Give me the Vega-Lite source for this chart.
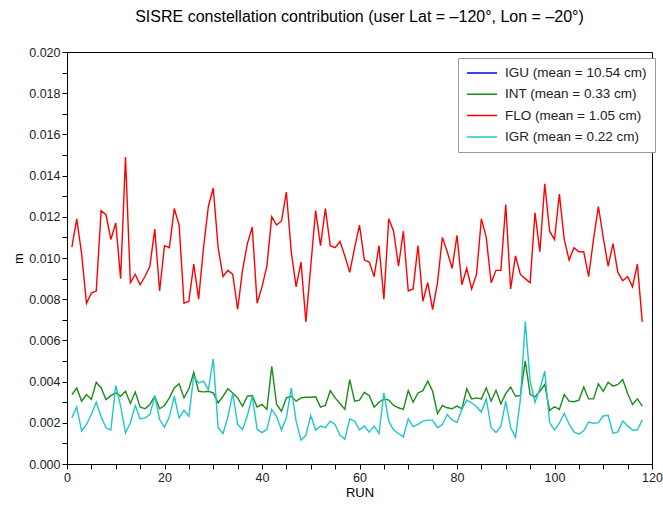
{
  "$schema": "https://vega.github.io/schema/vega-lite/v6.json",
  "width": 585,
  "height": 412,
  "autosize": {"type": "none"},
  "padding": {"left": 67, "top": 52, "right": 11, "bottom": 50},
  "background": "white",
  "title": {"text": "SISRE constellation contribution (user Lat = –120°, Lon = –20°)", "font": "Liberation Sans", "fontSize": 16, "fontWeight": "normal", "color": "black", "offset": 21, "anchor": "middle"},
  "config": {
    "view": {"stroke": "black", "strokeWidth": 1},
    "axis": {"domainColor": "black", "tickColor": "black", "tickSize": 5, "labelFont": "Liberation Sans", "labelFontSize": 12.5, "labelColor": "#222", "titleFont": "Liberation Sans", "titleFontSize": 13, "titleFontWeight": "normal", "titleColor": "black", "grid": false, "labelPadding": 2, "labelOverlap": false, "labelFlush": false}
  },
  "data": {"values": [
    {"run":1,"INT":0.00337,"FLO":0.01053,"IGR":0.00224},
    {"run":2,"INT":0.00369,"FLO":0.0119,"IGR":0.00277},
    {"run":3,"INT":0.00305,"FLO":0.0102,"IGR":0.0016},
    {"run":4,"INT":0.00337,"FLO":0.0078,"IGR":0.00192},
    {"run":5,"INT":0.00313,"FLO":0.0083,"IGR":0.0024},
    {"run":6,"INT":0.00397,"FLO":0.0084,"IGR":0.003},
    {"run":7,"INT":0.00369,"FLO":0.0123,"IGR":0.00229},
    {"run":8,"INT":0.00313,"FLO":0.0121,"IGR":0.00176},
    {"run":9,"INT":0.00332,"FLO":0.0109,"IGR":0.00165},
    {"run":10,"INT":0.00345,"FLO":0.0117,"IGR":0.00381},
    {"run":11,"INT":0.00329,"FLO":0.009,"IGR":0.00281},
    {"run":12,"INT":0.00353,"FLO":0.0149,"IGR":0.00152},
    {"run":13,"INT":0.00294,"FLO":0.0088,"IGR":0.002},
    {"run":14,"INT":0.0035,"FLO":0.0092,"IGR":0.00284},
    {"run":15,"INT":0.00277,"FLO":0.0087,"IGR":0.00219},
    {"run":16,"INT":0.00268,"FLO":0.0091,"IGR":0.00224},
    {"run":17,"INT":0.00289,"FLO":0.0096,"IGR":0.0024},
    {"run":18,"INT":0.00329,"FLO":0.0114,"IGR":0.00329},
    {"run":19,"INT":0.00268,"FLO":0.0084,"IGR":0.00216},
    {"run":20,"INT":0.00284,"FLO":0.0106,"IGR":0.00179},
    {"run":21,"INT":0.00321,"FLO":0.0105,"IGR":0.00229},
    {"run":22,"INT":0.00369,"FLO":0.0124,"IGR":0.00329},
    {"run":23,"INT":0.0039,"FLO":0.0116,"IGR":0.00224},
    {"run":24,"INT":0.00321,"FLO":0.0078,"IGR":0.00261},
    {"run":25,"INT":0.00365,"FLO":0.0079,"IGR":0.00232},
    {"run":26,"INT":0.00445,"FLO":0.0097,"IGR":0.00426},
    {"run":27,"INT":0.00353,"FLO":0.008,"IGR":0.00394},
    {"run":28,"INT":0.0035,"FLO":0.0105,"IGR":0.00402},
    {"run":29,"INT":0.00353,"FLO":0.0125,"IGR":0.00361},
    {"run":30,"INT":0.00345,"FLO":0.0134,"IGR":0.0051},
    {"run":31,"INT":0.00297,"FLO":0.0105,"IGR":0.00176},
    {"run":32,"INT":0.00329,"FLO":0.0091,"IGR":0.00148},
    {"run":33,"INT":0.00365,"FLO":0.0094,"IGR":0.00229},
    {"run":34,"INT":0.00345,"FLO":0.0092,"IGR":0.00342},
    {"run":35,"INT":0.00321,"FLO":0.0075,"IGR":0.00192},
    {"run":36,"INT":0.0028,"FLO":0.0094,"IGR":0.00168},
    {"run":37,"INT":0.00329,"FLO":0.0107,"IGR":0.00235},
    {"run":38,"INT":0.00332,"FLO":0.0115,"IGR":0.00329},
    {"run":39,"INT":0.00277,"FLO":0.0078,"IGR":0.00168},
    {"run":40,"INT":0.00289,"FLO":0.0086,"IGR":0.00152},
    {"run":41,"INT":0.00265,"FLO":0.0096,"IGR":0.00168},
    {"run":42,"INT":0.00474,"FLO":0.012,"IGR":0.00265},
    {"run":43,"INT":0.00289,"FLO":0.0116,"IGR":0.00229},
    {"run":44,"INT":0.00256,"FLO":0.0118,"IGR":0.00165},
    {"run":45,"INT":0.00321,"FLO":0.0132,"IGR":0.00224},
    {"run":46,"INT":0.00329,"FLO":0.0103,"IGR":0.00369},
    {"run":47,"INT":0.00305,"FLO":0.0086,"IGR":0.00208},
    {"run":48,"INT":0.00321,"FLO":0.0098,"IGR":0.00116},
    {"run":49,"INT":0.00324,"FLO":0.0069,"IGR":0.00139},
    {"run":50,"INT":0.00324,"FLO":0.0096,"IGR":0.00235},
    {"run":51,"INT":0.00326,"FLO":0.0123,"IGR":0.00165},
    {"run":52,"INT":0.00276,"FLO":0.0106,"IGR":0.00184},
    {"run":53,"INT":0.00284,"FLO":0.0124,"IGR":0.00176},
    {"run":54,"INT":0.00356,"FLO":0.0106,"IGR":0.00208},
    {"run":55,"INT":0.00321,"FLO":0.0105,"IGR":0.00192},
    {"run":56,"INT":0.00294,"FLO":0.0108,"IGR":0.00139},
    {"run":57,"INT":0.00265,"FLO":0.0101,"IGR":0.0012},
    {"run":58,"INT":0.0041,"FLO":0.0093,"IGR":0.00219},
    {"run":59,"INT":0.00305,"FLO":0.0105,"IGR":0.00208},
    {"run":60,"INT":0.0031,"FLO":0.0116,"IGR":0.00165},
    {"run":61,"INT":0.00348,"FLO":0.0099,"IGR":0.00184},
    {"run":62,"INT":0.00332,"FLO":0.0098,"IGR":0.00155},
    {"run":63,"INT":0.00276,"FLO":0.0091,"IGR":0.00184},
    {"run":64,"INT":0.003,"FLO":0.0106,"IGR":0.00148},
    {"run":65,"INT":0.00316,"FLO":0.008,"IGR":0.00345},
    {"run":66,"INT":0.0031,"FLO":0.0119,"IGR":0.00208},
    {"run":67,"INT":0.00284,"FLO":0.0113,"IGR":0.00165},
    {"run":68,"INT":0.00273,"FLO":0.0096,"IGR":0.00148},
    {"run":69,"INT":0.00265,"FLO":0.0113,"IGR":0.00132},
    {"run":70,"INT":0.00356,"FLO":0.0084,"IGR":0.00219},
    {"run":71,"INT":0.003,"FLO":0.0085,"IGR":0.00181},
    {"run":72,"INT":0.00345,"FLO":0.0106,"IGR":0.00192},
    {"run":73,"INT":0.00356,"FLO":0.0079,"IGR":0.00208},
    {"run":74,"INT":0.00402,"FLO":0.0088,"IGR":0.00213},
    {"run":75,"INT":0.00353,"FLO":0.0075,"IGR":0.00213},
    {"run":76,"INT":0.00245,"FLO":0.0088,"IGR":0.00176},
    {"run":77,"INT":0.00284,"FLO":0.011,"IGR":0.00192},
    {"run":78,"INT":0.00273,"FLO":0.0103,"IGR":0.0024},
    {"run":79,"INT":0.00268,"FLO":0.0095,"IGR":0.00214},
    {"run":80,"INT":0.00281,"FLO":0.0111,"IGR":0.00201},
    {"run":81,"INT":0.00268,"FLO":0.0087,"IGR":0.00265},
    {"run":82,"INT":0.00365,"FLO":0.0095,"IGR":0.0031},
    {"run":83,"INT":0.00316,"FLO":0.0085,"IGR":0.00297},
    {"run":84,"INT":0.00321,"FLO":0.0092,"IGR":0.00278},
    {"run":85,"INT":0.00316,"FLO":0.0119,"IGR":0.00252},
    {"run":86,"INT":0.0037,"FLO":0.011,"IGR":0.00316},
    {"run":87,"INT":0.00305,"FLO":0.0088,"IGR":0.00177},
    {"run":88,"INT":0.00358,"FLO":0.0094,"IGR":0.00153},
    {"run":89,"INT":0.00292,"FLO":0.0094,"IGR":0.00182},
    {"run":90,"INT":0.00342,"FLO":0.0126,"IGR":0.00305},
    {"run":91,"INT":0.00374,"FLO":0.0085,"IGR":0.00177},
    {"run":92,"INT":0.00329,"FLO":0.0101,"IGR":0.00129},
    {"run":93,"INT":0.00333,"FLO":0.0092,"IGR":0.00313},
    {"run":94,"INT":0.00501,"FLO":0.009,"IGR":0.00691},
    {"run":95,"INT":0.00337,"FLO":0.0088,"IGR":0.00402},
    {"run":96,"INT":0.00326,"FLO":0.0122,"IGR":0.003},
    {"run":97,"INT":0.00353,"FLO":0.0103,"IGR":0.00365},
    {"run":98,"INT":0.00386,"FLO":0.0136,"IGR":0.0045},
    {"run":99,"INT":0.0026,"FLO":0.0113,"IGR":0.00201},
    {"run":100,"INT":0.00278,"FLO":0.0109,"IGR":0.00165},
    {"run":101,"INT":0.00265,"FLO":0.0131,"IGR":0.00198},
    {"run":102,"INT":0.00337,"FLO":0.0109,"IGR":0.00246},
    {"run":103,"INT":0.00305,"FLO":0.0099,"IGR":0.00193},
    {"run":104,"INT":0.00302,"FLO":0.0105,"IGR":0.00156},
    {"run":105,"INT":0.0031,"FLO":0.0103,"IGR":0.00145},
    {"run":106,"INT":0.00374,"FLO":0.0103,"IGR":0.00161},
    {"run":107,"INT":0.00316,"FLO":0.0091,"IGR":0.00204},
    {"run":108,"INT":0.00316,"FLO":0.0109,"IGR":0.00198},
    {"run":109,"INT":0.00389,"FLO":0.0125,"IGR":0.00201},
    {"run":110,"INT":0.00353,"FLO":0.011,"IGR":0.00233},
    {"run":111,"INT":0.00397,"FLO":0.0096,"IGR":0.00236},
    {"run":112,"INT":0.00378,"FLO":0.0107,"IGR":0.00149},
    {"run":113,"INT":0.00386,"FLO":0.0093,"IGR":0.00156},
    {"run":114,"INT":0.0041,"FLO":0.0089,"IGR":0.00209},
    {"run":115,"INT":0.00342,"FLO":0.0091,"IGR":0.00185},
    {"run":116,"INT":0.00289,"FLO":0.0086,"IGR":0.00165},
    {"run":117,"INT":0.00316,"FLO":0.0097,"IGR":0.00165},
    {"run":118,"INT":0.00281,"FLO":0.0069,"IGR":0.00214}
  ]},
  "transform": [{"fold": ["INT", "FLO", "IGR"], "as": ["series", "value"]}],
  "mark": {"type": "line", "strokeWidth": 1.4, "clip": true},
  "encoding": {
    "x": {"field": "run", "type": "quantitative", "scale": {"domain": [0, 120], "nice": false, "zero": false},
      "axis": {"title": "RUN", "titlePadding": 3, "values": [0,5,10,15,20,25,30,35,40,45,50,55,60,65,70,75,80,85,90,95,100,105,110,115,120], "labelExpr": "datum.value % 20 == 0 ? datum.label : ''"}},
    "y": {"field": "value", "type": "quantitative", "scale": {"domain": [0, 0.02], "nice": false},
      "axis": {"title": "m", "titleX": -49, "titleY": 206, "titleBaseline": "middle", "format": ".3f", "values": [0,0.001,0.002,0.003,0.004,0.005,0.006,0.007,0.008,0.009,0.01,0.011,0.012,0.013,0.014,0.015,0.016,0.017,0.018,0.019,0.02], "labelExpr": "round(datum.value * 1000) % 2 == 0 ? datum.label : ''"}},
    "color": {"field": "series", "type": "nominal",
      "scale": {"domain": ["IGU", "INT", "FLO", "IGR"], "range": ["#0000ff", "#1a8c1a", "#ff0000", "#1ec8c8"]},
      "legend": {"orient": "none", "legendX": 391, "legendY": 6, "title": null, "strokeColor": "#999", "fillColor": "white", "padding": 8,
        "symbolType": "stroke", "symbolSize": 900, "symbolStrokeWidth": 1.5, "clipHeight": 14, "rowPadding": 7.3, "labelOffset": 7,
        "labelFont": "Liberation Sans", "labelFontSize": 13.5, "labelColor": "#222",
        "labelExpr": "datum.label == 'IGU' ? 'IGU (mean = 10.54 cm)' : datum.label == 'INT' ? 'INT (mean = 0.33 cm)' : datum.label == 'FLO' ? 'FLO (mean = 1.05 cm)' : 'IGR (mean = 0.22 cm)'"}}
  }
}
